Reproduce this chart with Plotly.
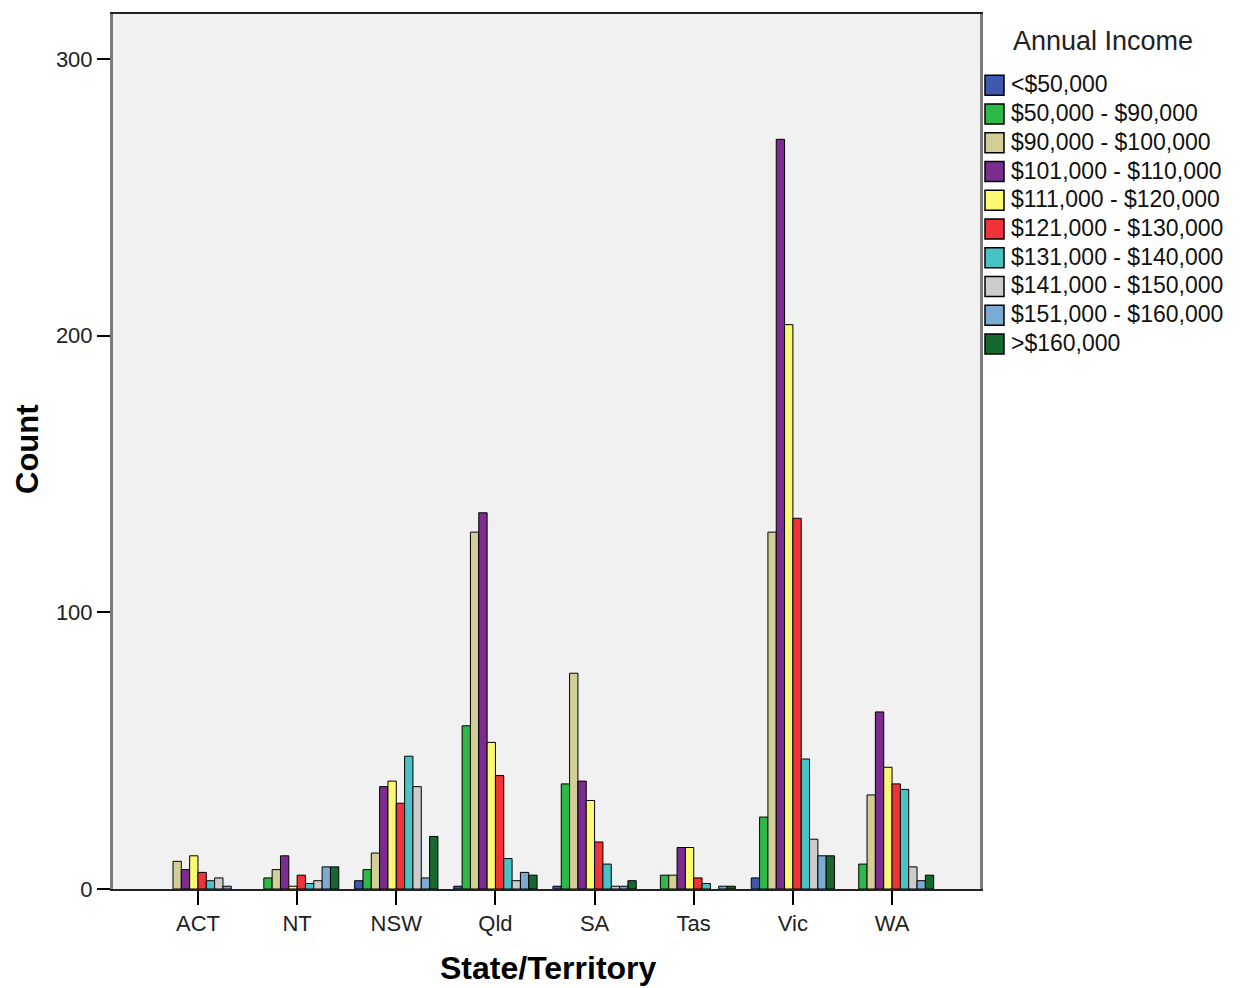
import plotly.graph_objects as go

states = ["ACT", "NT", "NSW", "Qld", "SA", "Tas", "Vic", "WA"]
income_groups = ["<$50,000", "$50,000 - $90,000", "$90,000 - $100,000", "$101,000 - $110,000",
                 "$111,000 - $120,000", "$121,000 - $130,000", "$131,000 - $140,000",
                 "$141,000 - $150,000", "$151,000 - $160,000", ">$160,000"]

lt50k = [0, 0, 3, 1, 1, 0, 4, 0]
k50_90 = [0, 4, 7, 59, 38, 5, 26, 9]
k90_100 = [10, 7, 13, 129, 78, 5, 129, 34]
k101_110 = [7, 12, 37, 136, 39, 15, 271, 64]
k111_120 = [12, 1, 39, 53, 32, 15, 204, 44]
k121_130 = [6, 5, 31, 41, 17, 4, 134, 38]
k131_140 = [3, 2, 48, 11, 9, 2, 47, 36]
k141_150 = [4, 3, 37, 3, 1, 0, 18, 8]
k151_160 = [1, 8, 4, 6, 1, 1, 12, 3]
gt160k = [0, 8, 19, 5, 3, 1, 12, 5]

series = [lt50k, k50_90, k90_100, k101_110, k111_120, k121_130, k131_140, k141_150, k151_160, gt160k]
colors = ["#3E58AC", "#2EB848", "#D3CE97", "#7B2D8F", "#FBF873", "#EF3338",
          "#48C2C5", "#CCCCCC", "#7BAAD2", "#156930"]

# page-pixel geometry of the plot area (page has 8px body margin)
PX_L, PX_T, PW, PH = 113, 12, 867, 877
def px(xp):
    return (xp - PX_L) / PW
def py(yp):
    return (PX_T + PH - yp) / PH

fig = go.Figure()
for name, vals, col in zip(income_groups, series, colors):
    fig.add_trace(go.Bar(
        x=states, y=vals, name=name, showlegend=False,
        marker=dict(color=col, line=dict(color="#000000", width=[1 if v > 0 else 0 for v in vals])),
    ))

font_family = "Liberation Sans, Arial, sans-serif"

shapes = []
annotations = []
# manual legend
annotations.append(dict(text="Annual Income", xref="paper", yref="paper", x=px(1011), y=py(39),
                        xanchor="left", yanchor="middle", showarrow=False,
                        font=dict(size=27, color="#222222")))
row0, step = 83.5, 28.8
for i, (name, col) in enumerate(zip(income_groups, colors)):
    cy = row0 + i * step
    shapes.append(dict(type="rect", xref="paper", yref="paper",
                       x0=px(985), x1=px(1004), y0=py(cy + 10), y1=py(cy - 10),
                       fillcolor=col, line=dict(color="#000000", width=1.5)))
    annotations.append(dict(text=name, xref="paper", yref="paper", x=px(1009), y=py(cy - 1),
                            xanchor="left", yanchor="middle", showarrow=False,
                            font=dict(size=23, color="#111111")))
# axis titles
annotations.append(dict(text="<b>Count</b>", xref="paper", yref="paper", x=px(27), y=py(448),
                        xanchor="center", yanchor="middle", textangle=-90, showarrow=False,
                        font=dict(size=31, color="#000000")))
annotations.append(dict(text="<b>State/Territory</b>", xref="paper", yref="paper", x=px(548), y=py(968),
                        xanchor="center", yanchor="middle", showarrow=False,
                        font=dict(size=32, color="#000000")))

fig.update_layout(
    width=1233, height=980,
    barmode="group", bargap=0.16, bargroupgap=0,
    plot_bgcolor="#F1F1F1", paper_bgcolor="#FFFFFF",
    margin=dict(l=105, r=1233 - 105 - PW, t=4, b=980 - 4 - PH),
    font=dict(family=font_family, size=22, color="#000000"),
    showlegend=False,
    shapes=shapes, annotations=annotations,
)
fig.update_xaxes(
    range=[-0.857, 7.887], showline=True, linecolor="#222222", linewidth=2, mirror=True,
    ticks="outside", ticklen=14, tickcolor="#000000", tickwidth=1.5, tickfont=dict(size=22, color="#222222"),
    showgrid=False,
)
fig.update_yaxes(
    range=[0, 316.3], showline=True, linecolor="#7A7A7A", linewidth=3, mirror=True,
    ticks="outside", ticklen=13, tickcolor="#000000", tickwidth=1.5, tickfont=dict(size=22, color="#222222"),
    tickvals=[0, 100, 200, 300],
    showgrid=False, zeroline=False,
)
fig.write_html("out.html")
